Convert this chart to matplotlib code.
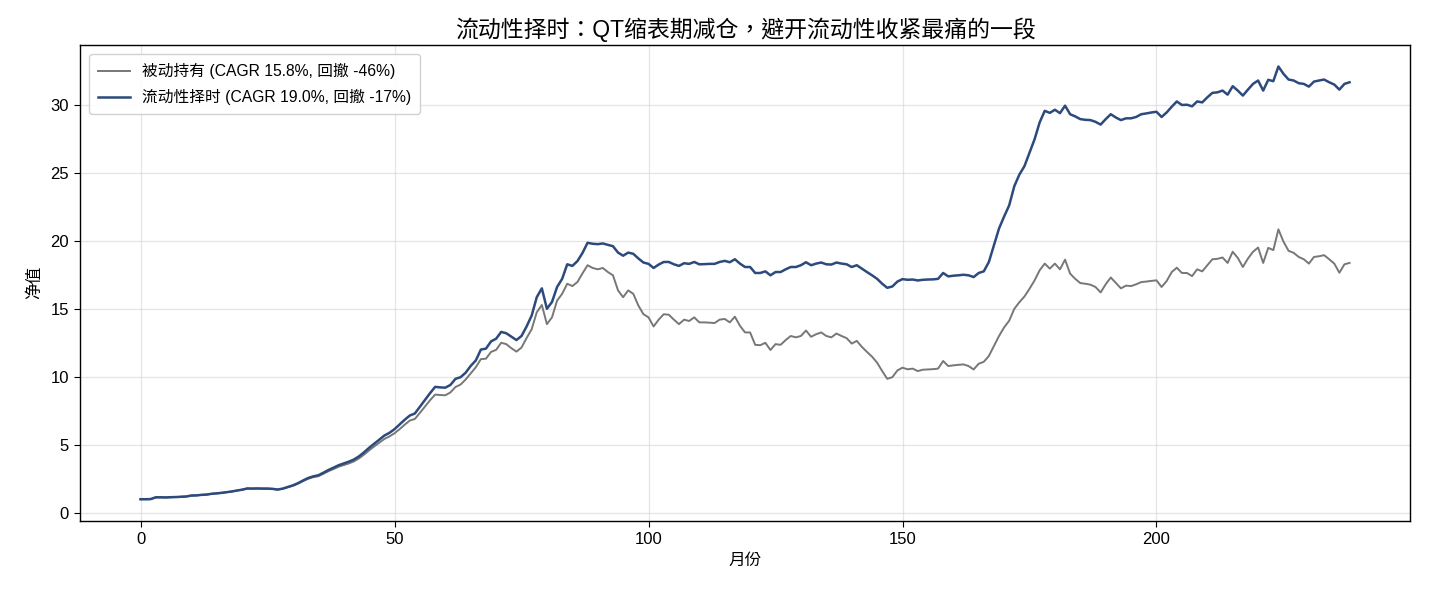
import matplotlib
matplotlib.use("Agg")
import matplotlib.pyplot as plt
import numpy as np

plt.rcParams['font.family'] = ['Liberation Sans', 'Noto Sans CJK TC', 'DejaVu Sans']
plt.rcParams['axes.unicode_minus'] = False

title = "流动性择时：QT缩表期减仓，避开流动性收紧最痛的一段"
xlabel = "月份"
ylabel = "净值"
label_passive = "被动持有 (CAGR 15.8%, 回撤 -46%)"
label_timed = "流动性择时 (CAGR 19.0%, 回撤 -17%)"

passive = [
    1.00, 1.00, 1.01, 1.14, 1.14, 1.13, 1.15, 1.16, 1.18, 1.20,
    1.27, 1.28, 1.32, 1.34, 1.40, 1.43, 1.47, 1.52, 1.57, 1.64,
    1.70, 1.79, 1.78, 1.79, 1.78, 1.78, 1.76, 1.71, 1.77, 1.88,
    1.99, 2.14, 2.33, 2.50, 2.62, 2.69, 2.87, 3.06, 3.22, 3.39,
    3.51, 3.63, 3.78, 4.00, 4.28, 4.59, 4.88, 5.15, 5.43, 5.62,
    5.85, 6.15, 6.48, 6.78, 6.90, 7.35, 7.82, 8.28, 8.69, 8.66,
    8.64, 8.85, 9.25, 9.43, 9.80, 10.25, 10.70, 11.30, 11.33, 11.83,
    11.98, 12.50, 12.40, 12.10, 11.85, 12.15, 12.85, 13.50, 14.74, 15.28,
    13.87, 14.37, 15.60, 16.10, 16.84, 16.67, 16.96, 17.60, 18.20, 18.00,
    17.90, 18.00, 17.70, 17.46, 16.35, 15.85, 16.35, 16.10, 15.24, 14.60,
    14.37, 13.70, 14.20, 14.60, 14.56, 14.20, 13.87, 14.20, 14.10, 14.37,
    14.00, 14.00, 13.98, 13.95, 14.20, 14.25, 14.00, 14.42, 13.75, 13.26,
    13.26, 12.35, 12.32, 12.50, 11.97, 12.40, 12.35, 12.70, 13.00, 12.90,
    13.00, 13.40, 12.94, 13.13, 13.26, 13.00, 12.90, 13.18, 13.00, 12.84,
    12.44, 12.64, 12.20, 11.83, 11.48, 11.04, 10.42, 9.85, 9.97, 10.47,
    10.67, 10.55, 10.60, 10.42, 10.52, 10.54, 10.56, 10.60, 11.16, 10.79,
    10.84, 10.88, 10.91, 10.79, 10.54, 10.96, 11.10, 11.53, 12.27, 13.00,
    13.63, 14.12, 14.99, 15.48, 15.90, 16.47, 17.09, 17.83, 18.32, 17.95,
    18.32, 17.90, 18.61, 17.58, 17.20, 16.89, 16.84, 16.77, 16.60, 16.20,
    16.80, 17.30, 16.90, 16.50, 16.70, 16.67, 16.80, 16.96, 17.00, 17.05,
    17.09, 16.60, 17.04, 17.70, 18.02, 17.63, 17.63, 17.40, 17.90, 17.75,
    18.20, 18.64, 18.67, 18.77, 18.37, 19.19, 18.74, 18.07, 18.69, 19.19,
    19.50, 18.37, 19.48, 19.31, 20.84, 19.93, 19.26, 19.11, 18.81, 18.64,
    18.32, 18.81, 18.86, 18.94, 18.64, 18.32, 17.65, 18.27, 18.37,
]

timed = [
    1.00, 1.00, 1.01, 1.14, 1.14, 1.13, 1.15, 1.16, 1.18, 1.20,
    1.27, 1.28, 1.32, 1.34, 1.40, 1.43, 1.47, 1.52, 1.57, 1.64,
    1.70, 1.79, 1.78, 1.79, 1.78, 1.78, 1.76, 1.71, 1.78, 1.90,
    2.02, 2.18, 2.38, 2.56, 2.68, 2.76, 2.95, 3.15, 3.32, 3.50,
    3.63, 3.76, 3.92, 4.15, 4.45, 4.78, 5.08, 5.38, 5.68, 5.88,
    6.15, 6.50, 6.84, 7.15, 7.30, 7.80, 8.30, 8.80, 9.26, 9.22,
    9.20, 9.40, 9.85, 9.97, 10.30, 10.80, 11.20, 12.00, 12.07, 12.60,
    12.80, 13.30, 13.20, 12.95, 12.70, 13.00, 13.70, 14.50, 15.85, 16.50,
    15.00, 15.50, 16.60, 17.20, 18.27, 18.15, 18.50, 19.10, 19.85, 19.78,
    19.75, 19.80, 19.70, 19.60, 19.13, 18.90, 19.13, 19.04, 18.70, 18.40,
    18.30, 18.00, 18.25, 18.44, 18.44, 18.27, 18.15, 18.35, 18.30, 18.44,
    18.27, 18.28, 18.30, 18.30, 18.44, 18.52, 18.42, 18.64, 18.32, 18.07,
    18.07, 17.63, 17.63, 17.75, 17.46, 17.70, 17.70, 17.90, 18.07, 18.07,
    18.20, 18.42, 18.20, 18.32, 18.40, 18.27, 18.25, 18.40, 18.32, 18.27,
    18.07, 18.20, 17.95, 17.70, 17.46, 17.20, 16.84, 16.54, 16.64, 17.00,
    17.18, 17.13, 17.15, 17.08, 17.13, 17.15, 17.16, 17.20, 17.63, 17.38,
    17.43, 17.46, 17.50, 17.46, 17.33, 17.63, 17.75, 18.44, 19.68, 20.90,
    21.78, 22.60, 24.00, 24.86, 25.48, 26.47, 27.46, 28.70, 29.55, 29.40,
    29.63, 29.38, 29.93, 29.30, 29.14, 28.94, 28.89, 28.87, 28.74, 28.54,
    28.94, 29.30, 29.06, 28.87, 29.00, 29.00, 29.10, 29.30, 29.36, 29.43,
    29.48, 29.10, 29.43, 29.85, 30.24, 29.98, 30.00, 29.88, 30.24, 30.17,
    30.54, 30.87, 30.91, 31.04, 30.74, 31.36, 31.04, 30.67, 31.11, 31.53,
    31.78, 31.04, 31.83, 31.73, 32.81, 32.27, 31.85, 31.78, 31.58, 31.53,
    31.33, 31.70, 31.78, 31.85, 31.65, 31.48, 31.11, 31.53, 31.65,
]

months = np.arange(len(timed))

fig = plt.figure(figsize=(14.3, 5.98), dpi=100)
ax = fig.add_axes([0.056, 0.129, 0.930, 0.796])

ax.plot(months, passive, color='#777777', linewidth=1.4, label=label_passive)
ax.plot(months, timed, color='#2c4a7c', linewidth=1.8, label=label_timed)

ax.set_title(title, fontsize=16.5, pad=6)
ax.set_xlabel(xlabel, fontsize=12)
ax.set_ylabel(ylabel, fontsize=12, labelpad=6)
ax.tick_params(labelsize=12, length=4.5)
for s in ax.spines.values():
    s.set_linewidth(1.0)
ax.grid(True, color='#cccccc', alpha=0.5, linewidth=0.9)
ax.legend(loc='upper left', fontsize=11.3, framealpha=0.9, edgecolor='#cccccc',
          labelspacing=0.65, borderpad=0.55, borderaxespad=0.6)

fig.savefig("out.png", dpi=100)
